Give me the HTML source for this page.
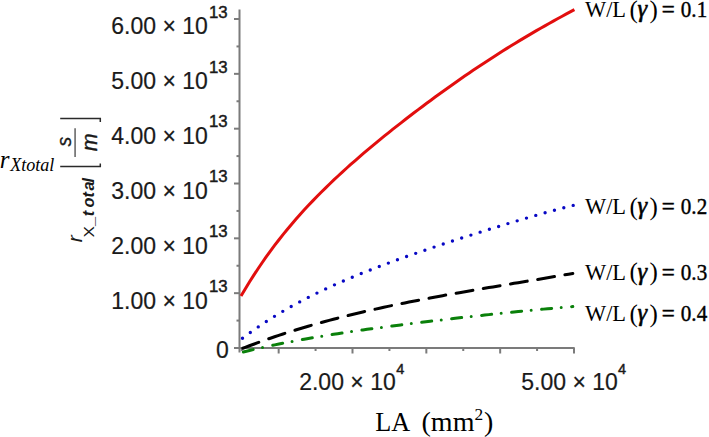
<!DOCTYPE html>
<html><head><meta charset="utf-8">
<style>
html,body{margin:0;padding:0;background:#fff;overflow:hidden;width:709px;height:437px;}
svg{display:block;}
.tk{font-family:"Liberation Sans",sans-serif;font-size:23px;fill:#1a1a1a;stroke:#1a1a1a;stroke-width:0.2px;}
.sp{font-family:"Liberation Sans",sans-serif;font-size:16.8px;fill:#1a1a1a;stroke:#1a1a1a;stroke-width:0.45px;}
.sp4{font-family:"Liberation Sans",sans-serif;font-size:14.5px;fill:#1a1a1a;stroke:#1a1a1a;stroke-width:0.45px;}
.tm{font-family:"Liberation Serif",serif;fill:#000;}
.rl{font-family:"Liberation Sans",sans-serif;fill:#1a1a1a;}
</style></head>
<body>
<svg width="709" height="437" viewBox="0 0 709 437">
<rect width="709" height="437" fill="#fff"/>
<g stroke="#7b7b7b" stroke-width="2" fill="none">
<line x1="239.5" y1="9.6" x2="239.5" y2="352.6"/>
<line x1="234" y1="348" x2="574.7" y2="348"/>
<line x1="234.0" y1="348.00" x2="239.5" y2="348.00"/>
<line x1="236.5" y1="320.58" x2="239.5" y2="320.58"/>
<line x1="234.0" y1="293.17" x2="239.5" y2="293.17"/>
<line x1="236.5" y1="265.75" x2="239.5" y2="265.75"/>
<line x1="234.0" y1="238.34" x2="239.5" y2="238.34"/>
<line x1="236.5" y1="210.93" x2="239.5" y2="210.93"/>
<line x1="234.0" y1="183.51" x2="239.5" y2="183.51"/>
<line x1="236.5" y1="156.09" x2="239.5" y2="156.09"/>
<line x1="234.0" y1="128.68" x2="239.5" y2="128.68"/>
<line x1="236.5" y1="101.27" x2="239.5" y2="101.27"/>
<line x1="234.0" y1="73.85" x2="239.5" y2="73.85"/>
<line x1="236.5" y1="46.44" x2="239.5" y2="46.44"/>
<line x1="234.0" y1="19.02" x2="239.5" y2="19.02"/>
<line x1="241.75" y1="348" x2="241.75" y2="351.0"/>
<line x1="278.67" y1="348" x2="278.67" y2="353.5"/>
<line x1="315.58" y1="348" x2="315.58" y2="351.0"/>
<line x1="352.50" y1="348" x2="352.50" y2="353.5"/>
<line x1="389.42" y1="348" x2="389.42" y2="351.0"/>
<line x1="426.33" y1="348" x2="426.33" y2="353.5"/>
<line x1="463.25" y1="348" x2="463.25" y2="351.0"/>
<line x1="500.17" y1="348" x2="500.17" y2="353.5"/>
<line x1="537.08" y1="348" x2="537.08" y2="351.0"/>
<line x1="574.00" y1="348" x2="574.00" y2="353.5"/>
</g>
<g fill="none" stroke-width="3.2">
<path d="M241.00,296.11 L245.22,288.96 L249.44,282.06 L253.66,275.40 L257.88,268.96 L262.10,262.74 L266.32,256.71 L270.54,250.88 L274.76,245.22 L278.98,239.74 L283.20,234.41 L287.42,229.23 L291.64,224.19 L295.86,219.29 L300.08,214.51 L304.30,209.85 L308.52,205.30 L312.74,200.85 L316.96,196.50 L321.18,192.23 L325.41,188.06 L329.63,183.96 L333.85,179.93 L338.07,175.98 L342.29,172.09 L346.51,168.26 L350.73,164.49 L354.95,160.77 L359.17,157.10 L363.39,153.47 L367.61,149.89 L371.83,146.35 L376.05,142.85 L380.27,139.39 L384.49,135.96 L388.71,132.57 L392.93,129.20 L397.15,125.87 L401.37,122.56 L405.59,119.29 L409.81,116.04 L414.03,112.81 L418.25,109.62 L422.47,106.45 L426.69,103.30 L430.91,100.18 L435.13,97.08 L439.35,94.01 L443.57,90.96 L447.79,87.94 L452.01,84.94 L456.23,81.97 L460.45,79.02 L464.67,76.10 L468.89,73.21 L473.11,70.34 L477.33,67.50 L481.55,64.69 L485.77,61.90 L489.99,59.14 L494.22,56.41 L498.44,53.71 L502.66,51.04 L506.88,48.39 L511.10,45.78 L515.32,43.19 L519.54,40.63 L523.76,38.10 L527.98,35.59 L532.20,33.11 L536.42,30.66 L540.64,28.24 L544.86,25.84 L549.08,23.46 L553.30,21.11 L557.52,18.77 L561.74,16.46 L565.96,14.16 L570.18,11.87 L574.40,9.60" stroke="#e20e0e" stroke-width="3.0"/>
<path d="M242.50,338.19 L246.69,335.08 L250.87,332.05 L255.06,329.09 L259.25,326.21 L263.44,323.41 L267.62,320.68 L271.81,318.02 L276.00,315.42 L280.19,312.89 L284.37,310.42 L288.56,308.01 L292.75,305.66 L296.94,303.36 L301.12,301.12 L305.31,298.92 L309.50,296.78 L313.68,294.68 L317.87,292.62 L322.06,290.61 L326.25,288.64 L330.43,286.71 L334.62,284.81 L338.81,282.95 L343.00,281.12 L347.18,279.33 L351.37,277.57 L355.56,275.83 L359.75,274.12 L363.93,272.44 L368.12,270.79 L372.31,269.15 L376.49,267.54 L380.68,265.95 L384.87,264.38 L389.06,262.83 L393.24,261.30 L397.43,259.78 L401.62,258.28 L405.81,256.79 L409.99,255.32 L414.18,253.86 L418.37,252.41 L422.56,250.98 L426.74,249.55 L430.93,248.14 L435.12,246.74 L439.31,245.34 L443.49,243.96 L447.68,242.58 L451.87,241.21 L456.05,239.85 L460.24,238.49 L464.43,237.15 L468.62,235.81 L472.80,234.48 L476.99,233.15 L481.18,231.83 L485.37,230.52 L489.55,229.22 L493.74,227.93 L497.93,226.64 L502.12,225.36 L506.30,224.09 L510.49,222.83 L514.68,221.57 L518.86,220.33 L523.05,219.10 L527.24,217.87 L531.43,216.66 L535.61,215.46 L539.80,214.28 L543.99,213.10 L548.18,211.94 L552.36,210.80 L556.55,209.67 L560.74,208.56 L564.93,207.47 L569.11,206.40 L573.30,205.35" stroke="#0808c4" stroke-width="3.4" stroke-linecap="round" stroke-dasharray="0 9.686"/>
<path d="M241.00,349.02 L245.20,347.39 L249.40,345.78 L253.60,344.21 L257.80,342.67 L262.00,341.15 L266.20,339.66 L270.40,338.21 L274.60,336.77 L278.80,335.37 L283.00,333.99 L287.20,332.63 L291.40,331.30 L295.60,330.00 L299.80,328.72 L304.00,327.46 L308.20,326.22 L312.40,325.01 L316.60,323.82 L320.80,322.65 L325.00,321.50 L329.20,320.37 L333.40,319.26 L337.60,318.17 L341.80,317.09 L346.00,316.04 L350.20,315.00 L354.40,313.98 L358.60,312.98 L362.80,311.99 L367.00,311.02 L371.20,310.06 L375.40,309.12 L379.60,308.19 L383.80,307.28 L388.00,306.38 L392.20,305.49 L396.40,304.62 L400.60,303.75 L404.80,302.90 L409.00,302.06 L413.20,301.23 L417.40,300.41 L421.60,299.60 L425.80,298.79 L430.00,298.00 L434.20,297.22 L438.40,296.44 L442.60,295.67 L446.80,294.91 L451.00,294.15 L455.20,293.40 L459.40,292.66 L463.60,291.92 L467.80,291.19 L472.00,290.46 L476.20,289.74 L480.40,289.02 L484.60,288.30 L488.80,287.59 L493.00,286.88 L497.20,286.17 L501.40,285.47 L505.60,284.76 L509.80,284.06 L514.00,283.36 L518.20,282.66 L522.40,281.96 L526.60,281.26 L530.80,280.56 L535.00,279.85 L539.20,279.15 L543.40,278.45 L547.60,277.74 L551.80,277.03 L556.00,276.32 L560.20,275.61 L564.40,274.89 L568.60,274.17 L572.80,273.45" stroke="#000" stroke-width="3.05" stroke-linecap="round" stroke-dasharray="16.95 10.63" stroke-dashoffset="-2.0"/>
<path d="M241.20,352.49 L245.40,351.46 L249.59,350.45 L253.79,349.46 L257.99,348.50 L262.19,347.56 L266.38,346.64 L270.58,345.74 L274.78,344.86 L278.98,344.00 L283.17,343.16 L287.37,342.34 L291.57,341.54 L295.77,340.75 L299.96,339.98 L304.16,339.22 L308.36,338.48 L312.56,337.75 L316.75,337.04 L320.95,336.34 L325.15,335.65 L329.35,334.98 L333.54,334.31 L337.74,333.66 L341.94,333.02 L346.14,332.38 L350.33,331.76 L354.53,331.15 L358.73,330.54 L362.93,329.95 L367.12,329.36 L371.32,328.78 L375.52,328.20 L379.72,327.64 L383.91,327.08 L388.11,326.52 L392.31,325.98 L396.51,325.43 L400.70,324.90 L404.90,324.37 L409.10,323.84 L413.30,323.32 L417.49,322.81 L421.69,322.29 L425.89,321.79 L430.09,321.28 L434.28,320.78 L438.48,320.29 L442.68,319.80 L446.88,319.31 L451.07,318.82 L455.27,318.34 L459.47,317.86 L463.67,317.39 L467.86,316.92 L472.06,316.45 L476.26,315.99 L480.46,315.53 L484.65,315.07 L488.85,314.62 L493.05,314.17 L497.25,313.73 L501.44,313.29 L505.64,312.85 L509.84,312.42 L514.04,311.99 L518.23,311.56 L522.43,311.15 L526.63,310.73 L530.83,310.32 L535.02,309.92 L539.22,309.52 L543.42,309.13 L547.62,308.74 L551.81,308.37 L556.01,307.99 L560.21,307.63 L564.41,307.27 L568.60,306.92 L572.80,306.58" stroke="#0a800a" stroke-width="3.0" stroke-linecap="round" stroke-dasharray="10.1 9.6 0 10.45" stroke-dashoffset="-2.2"/>
</g>
<text x="207.8" y="308.57" class="tk" text-anchor="end">1.00 × 10</text>
<text x="209.0" y="291.87" class="sp">13</text>
<text x="207.8" y="253.74" class="tk" text-anchor="end">2.00 × 10</text>
<text x="209.0" y="237.04" class="sp">13</text>
<text x="207.8" y="198.91" class="tk" text-anchor="end">3.00 × 10</text>
<text x="209.0" y="182.21" class="sp">13</text>
<text x="207.8" y="144.08" class="tk" text-anchor="end">4.00 × 10</text>
<text x="209.0" y="127.38" class="sp">13</text>
<text x="207.8" y="89.25" class="tk" text-anchor="end">5.00 × 10</text>
<text x="209.0" y="72.55" class="sp">13</text>
<text x="207.8" y="34.42" class="tk" text-anchor="end">6.00 × 10</text>
<text x="209.0" y="17.72" class="sp">13</text>
<text x="216" y="357.6" class="tk">0</text>
<text x="299.2" y="390.3" class="tk">2.00 × 10</text>
<text x="396.3" y="373.6" class="sp4">4</text>
<text x="521.3" y="390.3" class="tk">5.00 × 10</text>
<text x="618" y="373.6" class="sp4">4</text>
<text x="375.3" y="431.1" class="tm" font-size="27.5" textLength="35" lengthAdjust="spacingAndGlyphs">LA</text>
<text x="421.5" y="431.1" class="tm" font-size="28" textLength="53" lengthAdjust="spacingAndGlyphs">(mm</text>
<text x="474.6" y="420.4" class="tm" font-size="17.4">2</text>
<text x="484" y="431.1" class="tm" font-size="28">)</text>
<text x="585" y="17.3" class="tm" font-size="22.4">W/L</text>
<text x="629.6" y="17.900000000000002" class="tm" font-size="25">(</text>
<text x="637.5" y="17.3" class="tm" font-size="24.5" font-style="italic" stroke="#000" stroke-width="0.6">γ</text>
<text x="649.4" y="17.900000000000002" class="tm" font-size="25">)</text>
<text x="661.8" y="17.3" class="tm" font-size="22.4" stroke="#000" stroke-width="0.5" textLength="13" lengthAdjust="spacingAndGlyphs">=</text>
<text x="680.8" y="17.3" class="tm" font-size="22.4" stroke="#000" stroke-width="0.4" textLength="26.4" lengthAdjust="spacingAndGlyphs">0.1</text>
<text x="585" y="214.3" class="tm" font-size="22.4">W/L</text>
<text x="629.6" y="214.9" class="tm" font-size="25">(</text>
<text x="637.5" y="214.3" class="tm" font-size="24.5" font-style="italic" stroke="#000" stroke-width="0.6">γ</text>
<text x="649.4" y="214.9" class="tm" font-size="25">)</text>
<text x="661.8" y="214.3" class="tm" font-size="22.4" stroke="#000" stroke-width="0.5" textLength="13" lengthAdjust="spacingAndGlyphs">=</text>
<text x="680.8" y="214.3" class="tm" font-size="22.4" stroke="#000" stroke-width="0.4" textLength="26.4" lengthAdjust="spacingAndGlyphs">0.2</text>
<text x="585" y="279.6" class="tm" font-size="22.4">W/L</text>
<text x="629.6" y="280.20000000000005" class="tm" font-size="25">(</text>
<text x="637.5" y="279.6" class="tm" font-size="24.5" font-style="italic" stroke="#000" stroke-width="0.6">γ</text>
<text x="649.4" y="280.20000000000005" class="tm" font-size="25">)</text>
<text x="661.8" y="279.6" class="tm" font-size="22.4" stroke="#000" stroke-width="0.5" textLength="13" lengthAdjust="spacingAndGlyphs">=</text>
<text x="680.8" y="279.6" class="tm" font-size="22.4" stroke="#000" stroke-width="0.4" textLength="26.4" lengthAdjust="spacingAndGlyphs">0.3</text>
<text x="585" y="321.4" class="tm" font-size="22.4">W/L</text>
<text x="629.6" y="322.0" class="tm" font-size="25">(</text>
<text x="637.5" y="321.4" class="tm" font-size="24.5" font-style="italic" stroke="#000" stroke-width="0.6">γ</text>
<text x="649.4" y="322.0" class="tm" font-size="25">)</text>
<text x="661.8" y="321.4" class="tm" font-size="22.4" stroke="#000" stroke-width="0.5" textLength="13" lengthAdjust="spacingAndGlyphs">=</text>
<text x="680.8" y="321.4" class="tm" font-size="22.4" stroke="#000" stroke-width="0.4" textLength="26.4" lengthAdjust="spacingAndGlyphs">0.4</text>
<text x="-0.2" y="167.9" class="tm" font-style="italic" font-size="25">r</text>
<text x="10.2" y="170.6" class="tm" font-style="italic" font-size="19" textLength="44.2" lengthAdjust="spacingAndGlyphs">Xtotal</text>
<g stroke="#2a2a2a" stroke-width="1.5" fill="none">
<path d="M60.2,118.6 H100.3 V121.9"/>
<path d="M60.2,166.5 H100.3 V163.5"/>
<line x1="75.1" y1="128.2" x2="75.1" y2="157" stroke="#7a7a7a" stroke-width="1.8"/>
</g>
<text class="rl" transform="translate(70.6,146.4) rotate(-90)" font-size="19.5" font-style="italic" stroke="#1a1a1a" stroke-width="0.35">s</text>
<text class="rl" transform="translate(97.2,151.2) rotate(-90)" font-size="21.5" font-style="italic" stroke="#1a1a1a" stroke-width="0.35">m</text>
<text class="rl" transform="translate(81.9,242.2) rotate(-90)" font-size="21" font-style="italic">r</text>
<g transform="rotate(-90)" class="rl">
<text x="-237.6" y="93.8" font-size="14.2" textLength="11.4" lengthAdjust="spacingAndGlyphs">X</text>
<text x="-225.3 -216.2 -207.6 -197.4 -190.6 -182.6" y="94" font-size="16.4" font-weight="bold" font-style="italic">_total</text>
</g>
</svg>
</body></html>
